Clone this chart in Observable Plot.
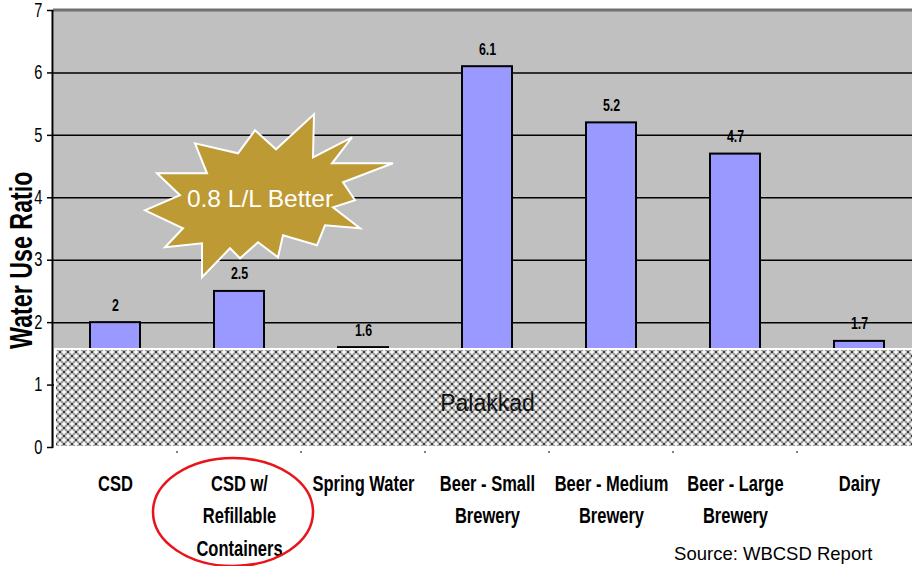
<!DOCTYPE html>
<html>
<head>
<meta charset="utf-8">
<script src="https://cdn.jsdelivr.net/npm/d3@7"></script>
<script src="https://cdn.jsdelivr.net/npm/@observablehq/plot@0.6"></script>
<style>
  html, body { margin: 0; padding: 0; background: #fff; overflow: hidden; }
</style>
</head>
<body>
<div id="chart"></div>
<script>
// Water use ratio (litres of water per litre of product) by beverage segment
const categories = [
  "CSD",
  "CSD w/ Refillable Containers",
  "Spring Water",
  "Beer - Small Brewery",
  "Beer - Medium Brewery",
  "Beer - Large Brewery",
  "Dairy"
];
const axisLabels = [
  ["CSD"],
  ["CSD w/", "Refillable", "Containers"],
  ["Spring Water"],
  ["Beer - Small", "Brewery"],
  ["Beer - Medium", "Brewery"],
  ["Beer - Large", "Brewery"],
  ["Dairy"]
];
const waterUseRatio = [2, 2.5, 1.6, 6.1, 5.2, 4.7, 1.7];
const yTicks = [0, 1, 2, 3, 4, 5, 6, 7];
const gridValues = [1, 2, 3, 4, 5, 6];
const palakkadRatio = [1.57];
const palakkadLabel = "Palakkad";
const burstLabel = "0.8 L/L Better";
const burstAnchor = {category: "CSD w/ Refillable Containers", value: 4};
const highlightCategory = "CSD w/ Refillable Containers";
const yLabel = "Water Use Ratio";
const sourceNote = "Source: WBCSD Report";

const bars = categories.map((category, i) => ({category, value: waterUseRatio[i]}));
const labelLines = categories.flatMap((category, i) =>
  axisLabels[i].map((text, line) => ({category, text, line}))
);

// condensed look: Liberation Sans squeezed horizontally after rendering
const narrow = '"Liberation Sans", Arial, Helvetica, sans-serif';
const regular = 'Arial, "Liberation Sans", Helvetica, sans-serif';
const squeeze = 0.75;

// starburst outline, offsets in pixels from its centre
const burst = [
  [54,-84],[53,-41],[92,-61],[72,-35],[133,-35],[83,-16],[95,2],[73,9],
  [100,30],[65,27],[57,47],[23,37],[18,59],[-2,44],[-20,60],[-30,50],
  [-58,79],[-58,45],[-95,49],[-77,30],[-115,12],[-80,-3],[-103,-25],
  [-53,-25],[-65,-55],[-22,-45],[-5,-68],[16,-49]
];

// dotted cross-hatch used for the baseline band
function hatchDefs() {
  const defs = d3.create("svg:defs");
  const p = defs.append("pattern")
    .attr("id", "palakkad-hatch")
    .attr("patternUnits", "userSpaceOnUse")
    .attr("width", 8).attr("height", 8);
  p.append("rect").attr("width", 8).attr("height", 8).attr("fill", "#a2a2a2");
  for (const [cx, cy] of [[4, 0], [0, 4], [8, 4], [4, 8]]) {
    p.append("rect").attr("x", cx - 1.25).attr("y", cy - 1.25).attr("width", 2.5).attr("height", 2.5).attr("fill", "#3c3c3c");
  }
  for (const [cx, cy] of [[0, 0], [8, 0], [0, 8], [8, 8], [4, 4]]) {
    p.append("rect").attr("x", cx - 2.5).attr("y", cy - 0.75).attr("width", 5).attr("height", 1.5).attr("fill", "#fff");
    p.append("rect").attr("x", cx - 0.75).attr("y", cy - 2.5).attr("width", 1.5).attr("height", 5).attr("fill", "#fff");
  }
  return defs.node();
}

function axisLine(index, scales, values, dim) {
  const g = d3.create("svg:g");
  const [y0, y1] = [scales.y(0), scales.y(7)];
  g.append("line")
    .attr("x1", dim.marginLeft - 0.5).attr("x2", dim.marginLeft - 0.5)
    .attr("y1", y1).attr("y2", y0 + 1)
    .attr("stroke", "#000").attr("stroke-width", 2);
  // small separators between categories below the band
  const step = scales.x.step();
  for (let k = 1; k < categories.length; k++) {
    const x = dim.marginLeft + k * step;
    g.append("line").attr("x1", x).attr("x2", x).attr("y1", y0 + 4).attr("y2", y0 + 6)
      .attr("stroke", "#000").attr("stroke-width", 1);
  }
  return g.node();
}

function starburst(index, scales) {
  const cx = scales.x(burstAnchor.category) + scales.x.bandwidth() / 2 + 21;
  const cy = scales.y(burstAnchor.value) + 1;
  const g = d3.create("svg:g");
  g.append("polygon")
    .attr("points", burst.map(([dx, dy]) => `${cx + dx},${cy + dy}`).join(" "))
    .attr("fill", "#bd9a33")
    .attr("stroke", "#fff")
    .attr("stroke-width", 2)
    .attr("stroke-linejoin", "miter");
  g.append("text")
    .attr("x", cx).attr("y", cy)
    .attr("text-anchor", "middle")
    .attr("dy", "0.35em")
    .attr("fill", "#fff")
    .attr("font-family", regular)
    .attr("font-size", 24.5)
    .text(burstLabel);
  return g.node();
}

function highlightRing(index, scales) {
  const cx = scales.x(highlightCategory) + scales.x.bandwidth() / 2 - 6;
  const cy = scales.y(0) + 65;
  return d3.create("svg:ellipse")
    .attr("cx", cx).attr("cy", cy).attr("rx", 80).attr("ry", 54)
    .attr("fill", "none").attr("stroke", "#e8141a").attr("stroke-width", 2.5)
    .node();
}

// one text mark per label row
const labelRows = [0, 1, 2].map(line =>
  Plot.text(labelLines.filter(d => d.line === line), {
    x: "category", frameAnchor: "bottom", text: "text",
    lineAnchor: "middle", dy: 36 + line * 32.5,
    fontSize: 22, fontWeight: "bold", fontFamily: narrow, fill: "#000"
  })
);

const chart = Plot.plot({
  width: 921,
  height: 566,
  marginLeft: 53,
  marginRight: 0,
  marginTop: 10,
  marginBottom: 119,
  style: {maxWidth: "none", overflow: "hidden", background: "#fff"},
  x: {type: "band", domain: categories, paddingInner: 0.6, paddingOuter: 0.3, axis: null},
  y: {domain: [0, 7], axis: null},
  marks: [
    hatchDefs,
    Plot.frame({fill: "#c0c0c0", stroke: null}),
    Plot.ruleY([7], {stroke: "#707070", strokeWidth: 3, dy: -0.5}),
    Plot.ruleY(gridValues, {stroke: "#000", strokeWidth: 1.5}),
    Plot.barY(bars, {x: "category", y: "value", fill: "#9999ff", stroke: "#000", strokeWidth: 2}),
    Plot.text(bars, {
      x: "category", y: "value", text: d => String(d.value),
      lineAnchor: "bottom", dy: -12,
      fontSize: 16.5, fontWeight: "bold", fontFamily: narrow, fill: "#000"
    }),
    Plot.rectY(palakkadRatio, {y1: 0, y2: d => d, fill: "url(#palakkad-hatch)", stroke: "#fff", strokeWidth: 2, insetLeft: 2}),
    Plot.text([palakkadLabel], {y: () => 0.7, text: d => d, fontSize: 23, fontFamily: regular, fill: "#111"}),
    Plot.axisY({
      ticks: yTicks, tickFormat: d => String(d), tickSize: 6, tickPadding: 5,
      fontSize: 19.5, fontFamily: narrow, label: null, strokeWidth: 1.5
    }),
    axisLine,
    Plot.text([yLabel], {
      y: () => 3, frameAnchor: "left", dx: -31.5, rotate: -90, text: d => d,
      textAnchor: "middle", lineAnchor: "middle",
      fontSize: 31, fontWeight: "bold", fontFamily: narrow, fill: "#000"
    }),
    ...labelRows,
    starburst,
    highlightRing,
    Plot.text([sourceNote], {
      frameAnchor: "bottom-right", dx: -49, dy: 112, text: d => d, textAnchor: "end",
      fontSize: 18.5, fontFamily: regular, fill: "#000"
    })
  ]
});

// squeeze the narrow-family texts along their own direction
d3.select(chart).selectAll("g")
  .filter(function () { return this.getAttribute("font-family") === narrow; })
  .selectAll("text")
  .each(function () {
    const t = this.getAttribute("transform") || "";
    this.setAttribute("transform", t + ` scale(${squeeze},1)`);
  });

document.getElementById("chart").append(chart);
</script>
</body>
</html>
